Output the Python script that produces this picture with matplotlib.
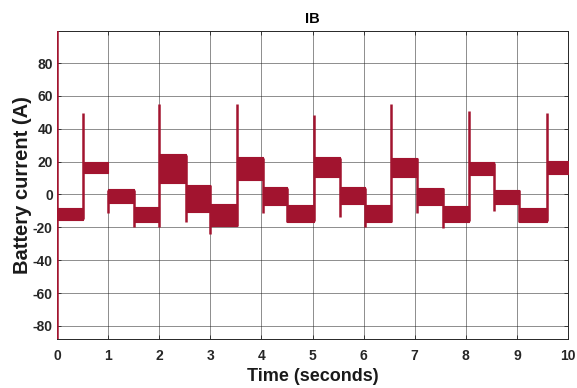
import numpy as np
import matplotlib.pyplot as plt

plt.rcParams['font.family'] = ['Liberation Sans', 'DejaVu Sans']
plt.rcParams['axes.unicode_minus'] = False

# segment boundaries (s) and the band of the ripple in each segment (A)
seg_start = [0.0, 0.5, 1.0, 1.5, 2.0, 2.53, 3.0, 3.53, 4.04, 4.5,
             5.03, 5.53, 6.03, 6.54, 7.04, 7.55, 8.06, 8.55, 9.05, 9.58]
seg_end = seg_start[1:] + [10.0]
seg_low = [-15.5, 12.8, -5.3, -16.5, 7.2, -10.4, -19.5, 8.8, -6.4, -16.5,
           10.8, -5.8, -17.0, 10.8, -6.4, -16.5, 11.8, -5.8, -16.5, 12.4]
seg_high = [-8.5, 19.8, 3.1, -7.8, 24.4, 5.8, -5.8, 22.9, 4.4, -6.4,
            22.9, 4.4, -6.4, 22.5, 3.7, -7.0, 19.9, 2.7, -8.4, 20.5]

# switching transients
spike_t = [0.0, 0.5, 1.0, 1.5, 2.0, 2.53, 3.0, 3.53, 4.04, 4.5,
           5.03, 5.53, 6.03, 6.54, 7.04, 7.55, 8.06, 8.55, 9.05, 9.58]
spike_lo = [-88, -15, -11.4, -20, -20, -16.5, -24, -19, -11.4, -16.5,
            -16, -13.8, -20, -17, -11.4, -20.5, -16, -9.8, -16.5, -16]
spike_hi = [100, 49.4, 3, 3, 55.3, 24, 6, 54.8, 22, 4,
            48.2, 22, 4, 55.3, 22, 4, 50.8, 19, 3, 49.6]

red = '#A2142F'

fig = plt.figure(figsize=(5.77, 3.88), dpi=100)
ax = fig.add_axes([0.0988, 0.1263, 0.8856, 0.7937])

for s, e, lo, hi in zip(seg_start, seg_end, seg_low, seg_high):
    ax.fill_between([s, e], [lo, lo], [hi, hi], color=red, lw=0.8, zorder=3)
ax.vlines(spike_t, spike_lo, spike_hi, color=red, lw=1.8, zorder=3)

ax.set_xlim(0, 10)
ax.set_ylim(-88, 99.5)
ax.set_xticks(range(0, 11))
ax.set_yticks(range(-80, 81, 20))
ax.grid(True, color='#222222', lw=0.6, alpha=0.6)
ax.set_axisbelow(True)
ax.tick_params(direction='in', top=True, right=True, length=3, width=0.6,
               colors='#262626', labelsize=10)
ax.tick_params(axis='x', pad=7)
ax.tick_params(axis='y', pad=3)
for lab in ax.get_xticklabels() + ax.get_yticklabels():
    lab.set_fontweight('bold')
for sp in ax.spines.values():
    sp.set_color('#262626')
    sp.set_linewidth(0.7)

ax.set_title('IB', fontsize=10.5, fontweight='bold', pad=6)
ax.set_xlabel('Time (seconds)', fontsize=13, fontweight='bold', color='#1a1a1a')
ax.set_ylabel('Battery current (A)', fontsize=14.5, fontweight='bold', color='#1a1a1a')
ax.xaxis.label.set_va('center')
ax.xaxis.set_label_coords(0.5, -0.123)
ax.yaxis.label.set_va('center')
ax.yaxis.set_label_coords(-0.0685, 0.5)

fig.savefig('out.png', dpi=100)
